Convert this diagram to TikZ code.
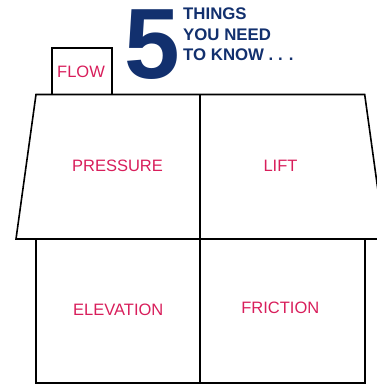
\documentclass[tikz,border=0pt]{standalone}
\usepackage{fontspec}
\setmainfont{Liberation Sans}
\definecolor{bleunuit}{HTML}{12306E}
\definecolor{rouge}{HTML}{D81E5B}
\tikzset{
    mur/.style={line width=1.6pt},
    etiquette/.style={text=rouge,inner sep=0pt,font=\fontsize{16.5}{20}\selectfont},
    titre/.style={text=bleunuit,inner sep=0pt,anchor=base west,font=\fontsize{16.8}{20}\selectfont\bfseries}
}
\begin{document}
\begin{tikzpicture}[x=1pt,y=-1pt]
    \useasboundingbox (0,0) rectangle (376,384);
    
    % Toit
    \draw[mur] (36,94.5) -- (364.7,94.5) -- (384.7,239) -- (16,239) -- cycle;
    
    % Murs
    \draw[mur] (36,239) rectangle (364.7,383);
    
    % Verticale
    \draw[mur] (200,94.5) -- ++(0,288.5);
    
    % Cheminée
    \draw[mur] (52,48) rectangle (112,94.5);
    \node[etiquette] (flow) at (81,71.5) {FLOW};
    
    % Pièces
    \node[etiquette] (pressure) at (117.5,165.5) {PRESSURE};
    \node[etiquette] (lift) at (280.5,165.7) {LIFT};
    \node[etiquette] (elevation) at (118.3,309.7) {ELEVATION};
    \node[etiquette] (friction) at (280.3,308.3) {FRICTION};
    
    % Titre
    \node[text=bleunuit,inner sep=0pt,anchor=base,font=\fontsize{100}{100}\selectfont\bfseries] (cinq) at (152.5,78) {5};
    \node[titre] (things) at (183,19.3) {THINGS};
    \node[titre] (need) at (183,40) {YOU NEED};
    \node[titre] (know) at (183,60) {TO KNOW . . .};
\end{tikzpicture}
\end{document}
